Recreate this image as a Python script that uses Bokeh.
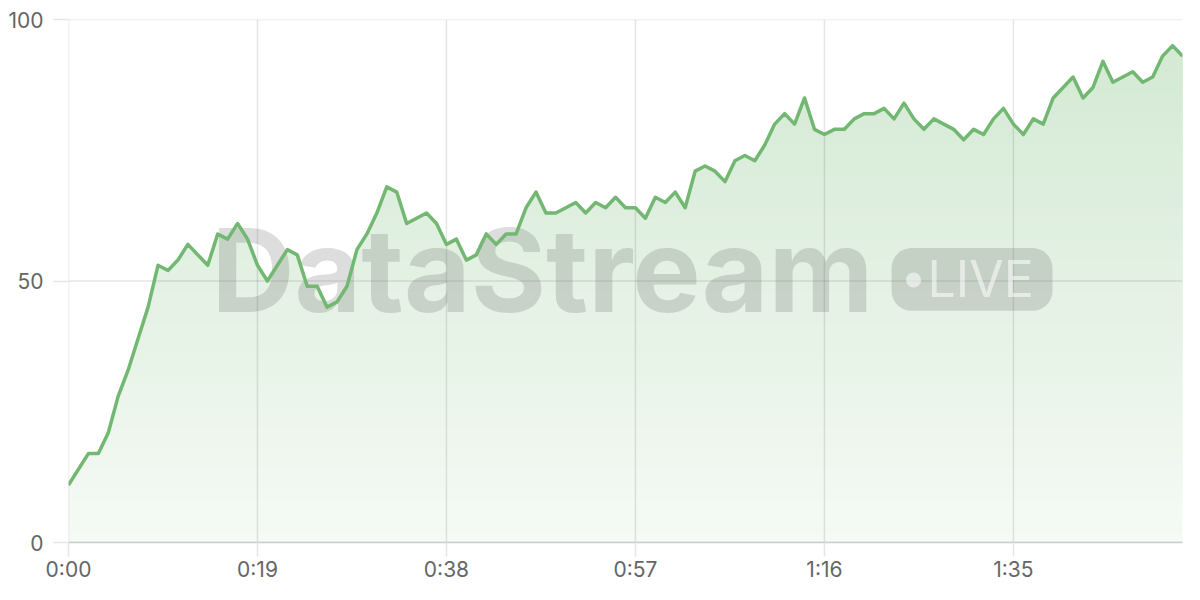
import numpy as np
from bokeh.plotting import figure
from bokeh.models import FixedTicker, Range1d
from bokeh.core.properties import value
from bokeh.embed import file_html
from bokeh.resources import INLINE

# ---- data (one sample per second) ----
values = [11, 14, 17, 17, 21, 28, 33, 39, 45, 53, 52, 54, 57, 55, 53, 59, 58, 61, 58, 53,
          50, 53, 56, 55, 49, 49, 45, 46, 49, 56, 59, 63, 68, 67, 61, 62, 63, 61, 57, 58,
          54, 55, 59, 57, 59, 59, 64, 67, 63, 63, 64, 65, 63, 65, 64, 66, 64, 64, 62, 66,
          65, 67, 64, 71, 72, 71, 69, 73, 74, 73, 76, 80, 82, 80, 85, 79, 78, 79, 79, 81,
          82, 82, 83, 81, 84, 81, 79, 81, 80, 79, 77, 79, 78, 81, 83, 80, 78, 81, 80, 85,
          87, 89, 85, 87, 92, 88, 89, 90, 88, 89, 93, 95, 93]
seconds = list(range(len(values)))
x_ticks = [0, 19, 38, 57, 76, 95]
y_ticks = [0, 50, 100]
x_tick_labels = {t: f"{t // 60}:{t % 60:02d}" for t in x_ticks}

watermark_text = "DataStream"
badge_text = "LIVE"

LINE = "#72b872"
FONT = "Inter"
LABEL_COLOR = "#666666"
X_MAX, Y_MAX = 112, 100

p = figure(width=1184, height=584, output_backend="svg", toolbar_location=None,
           x_range=Range1d(0, X_MAX), y_range=Range1d(0, Y_MAX),
           min_border_left=68, min_border_right=2, min_border_top=19, min_border_bottom=42)
p.outline_line_color = None
p.background_fill_color = "white"
p.border_fill_color = "white"


def blend(t):
    r, g, b = int(LINE[1:3], 16), int(LINE[3:5], 16), int(LINE[5:7], 16)
    mix = lambda c: int(round(255 * (1 - t) + c * t))
    return "#%02x%02x%02x" % (mix(r), mix(g), mix(b))


# ---- vertical gradient fill under the line (opaque stacked layers) ----
y = np.array(values, dtype=float)
n_layers = 50
step = Y_MAX / n_layers
for k in range(n_layers):
    a = k * step
    t = 0.07 + 0.25 * (a + step / 2) / Y_MAX
    p.varea(x=seconds, y1=np.minimum(y, a), y2=y, fill_color=blend(t), fill_alpha=1.0)

# ---- grid lines (translucent, drawn over the fill) ----
p.segment(x0=x_ticks, y0=[0] * len(x_ticks), x1=x_ticks, y1=[Y_MAX] * len(x_ticks),
          line_color="black", line_alpha=0.1, line_width=1.5)
p.segment(x0=[0] * len(y_ticks), y0=y_ticks, x1=[X_MAX] * len(y_ticks), y1=y_ticks,
          line_color="black", line_alpha=0.1, line_width=1.5)

# ---- watermark ----
wm_color = "#555555"
p.text(x=[14.38], y=[52.0], text=[watermark_text], text_font=value(FONT),
       text_font_style="bold", text_font_size="115px", text_color=wm_color,
       text_alpha=0.2, text_align="left", text_baseline="alphabetic")
p.quad(left=[82.75], right=[98.93], bottom=[44.3], top=[56.3], fill_color=wm_color,
       fill_alpha=0.2, line_color=None, border_radius=20)
p.scatter(x=[84.96], y=[50.2], size=15, fill_color="white", fill_alpha=0.55, line_color=None)
p.text(x=[86.37], y=[50.4], text=[badge_text], text_font=value(FONT),
       text_font_size="50px", text_color="white", text_alpha=0.55,
       text_align="left", text_baseline="alphabetic")

# ---- line ----
p.line(seconds, values, line_color=LINE, line_width=3.5, line_join="round")

# ---- axes ----
TICK = "#e6e6e6"
p.xaxis.ticker = FixedTicker(ticks=x_ticks)
p.yaxis.ticker = FixedTicker(ticks=y_ticks)
p.xaxis.major_label_overrides = x_tick_labels
for ax in (p.xaxis, p.yaxis):
    ax.major_label_text_font = FONT
    ax.major_label_text_font_size = "21px"
    ax.major_label_text_color = LABEL_COLOR
    ax.major_tick_line_color = TICK
    ax.major_tick_line_width = 1.5
    ax.major_tick_out = 14
    ax.major_tick_in = 0
    ax.minor_tick_line_color = None
p.yaxis.major_tick_out = 15
p.xaxis.major_label_standoff = 0
p.xaxis.axis_line_color = "#cccccc"
p.xaxis.axis_line_width = 1.5
p.yaxis.axis_line_color = None
p.yaxis.major_label_standoff = 10
p.grid.grid_line_color = None

open("out.html", "w").write(file_html(p, INLINE))
